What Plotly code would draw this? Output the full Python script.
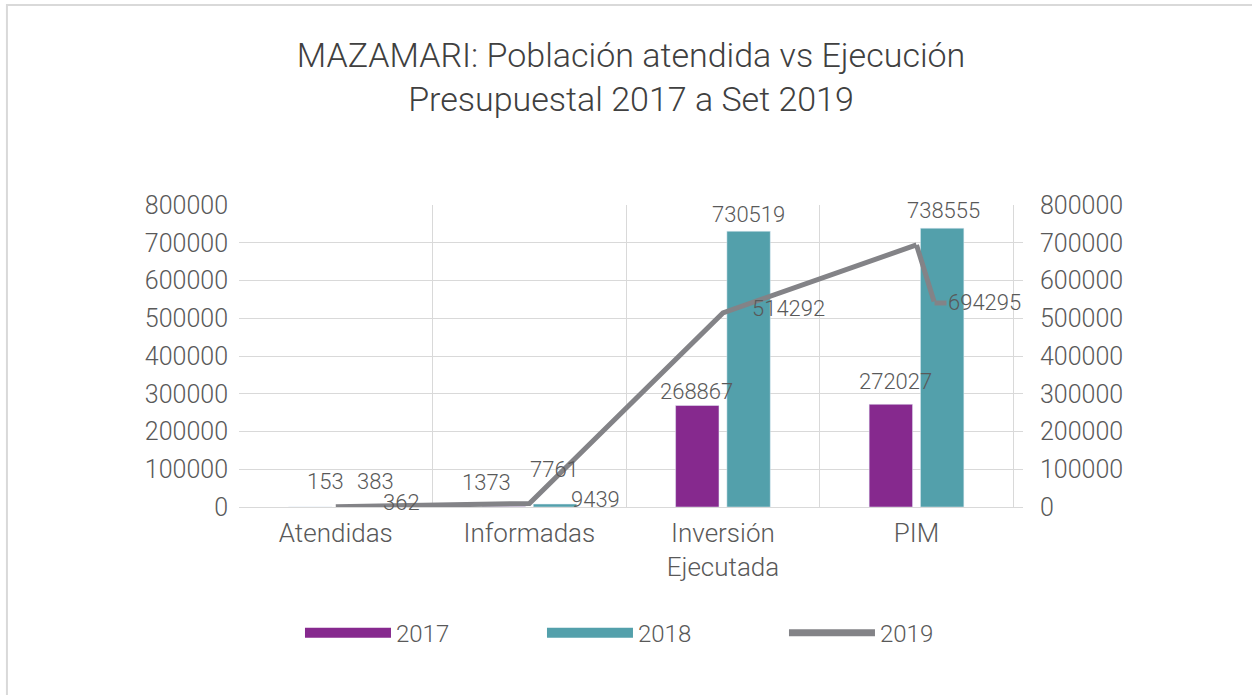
import plotly.graph_objects as go

# ---------------- data ----------------
categories = ["Atendidas", "Informadas", "Inversión<br>Ejecutada", "PIM"]
series_2017 = [153, 1373, 268867, 272027]
series_2018 = [383, 7761, 730519, 738555]
series_2019 = [362, 9439, 514292, 694295]
axis_ticks = [0, 100000, 200000, 300000, 400000, 500000, 600000, 700000, 800000]

# ---------------- styles ----------------
PURPLE = "#86298E"
TEAL = "#53A0AB"
GRAY = "#838387"
TXT = "#595959"
GRID = "#D9D9D9"
FONT = "Roboto"

fig = go.Figure()
fig.add_trace(go.Bar(x=categories, y=series_2017, name="2017", marker_color=PURPLE,
                     hoverinfo="skip", showlegend=False, legendgroup="2017"))
fig.add_trace(go.Bar(x=categories, y=series_2018, name="2018", marker_color=TEAL,
                     hoverinfo="skip", showlegend=False, legendgroup="2018"))
fig.add_trace(go.Scatter(x=categories, y=series_2019, name="2019", mode="lines",
                         yaxis="y2", line=dict(color=GRAY, width=5),
                         hoverinfo="skip", showlegend=False, legendgroup="2019"))

# legend keys (wide swatches like the original legend)
for name, col, w in (("2017", PURPLE, 18), ("2018", TEAL, 18), ("2019", GRAY, 7)):
    fig.add_trace(go.Scatter(x=[None], y=[None], name=name, mode="lines",
                             line=dict(color=col, width=w), legendgroup=name,
                             hoverinfo="skip"))

# label nudges (pixels) : (dx, dy) relative to the bar top centre
bar_shift = {0: -26, 1: 26}
nudge_2017 = [(16, 25), (-17, 24), (0, 14), (5, 23)]
nudge_2018 = [(14, 25), (-1, 35), (0, 17), (1, 18)]

annotations = []
lab_font = dict(family=FONT, size=22, color=TXT, weight=300)
for i, c in enumerate(categories):
    dx, dy = nudge_2017[i]
    annotations.append(dict(x=c, y=series_2017[i], xref="x", yref="y",
                            text=str(series_2017[i]), showarrow=False,
                            xshift=bar_shift[0] + dx, yshift=dy, font=lab_font))
    dx, dy = nudge_2018[i]
    annotations.append(dict(x=c, y=series_2018[i], xref="x", yref="y",
                            text=str(series_2018[i]), showarrow=False,
                            xshift=bar_shift[1] + dx, yshift=dy, font=lab_font))

# line labels, right of point
for i in range(3):
    annotations.append(dict(x=categories[i], y=series_2019[i], xref="x", yref="y2",
                            text=str(series_2019[i]), showarrow=False,
                            xshift=66, yshift=4, font=lab_font))
# last label moved with leader line
annotations.append(dict(x=categories[3], y=series_2019[3], xref="x", yref="y2",
                        text="", showarrow=True, arrowhead=0, arrowwidth=5,
                        arrowcolor=GRAY, ax=18, ay=58, standoff=0, startstandoff=0))
annotations.append(dict(x=categories[3], y=series_2019[3], xref="x", yref="y2",
                        text=str(series_2019[3]), showarrow=True, arrowhead=0,
                        arrowwidth=5, arrowcolor=GRAY, ax=50, ay=0,
                        xshift=18, yshift=-58, standoff=0, startstandoff=0,
                        font=lab_font))

tick_font = dict(family=FONT, size=25, color=TXT, weight=300)

fig.update_layout(
    width=1252, height=695,
    margin=dict(l=239, r=229, t=205, b=188, autoexpand=False),
    paper_bgcolor="white", plot_bgcolor="white",
    barmode="group", bargap=0.47, bargroupgap=0.154,
    title=dict(text="MAZAMARI: Población atendida vs Ejecución<br>Presupuestal 2017 a Set 2019",
               x=0.504, xref="container", xanchor="center",
               y=0.9035, yref="container", yanchor="middle",
               font=dict(family=FONT, size=34, color="#404040", weight=300)),
    xaxis=dict(type="category", tickson="boundaries", showgrid=True, gridcolor=GRID,
               gridwidth=1, ticks="", ticklabelstandoff=8,
               tickfont=dict(family=FONT, size=26, color=TXT, weight=300),
               showline=False, zeroline=False, fixedrange=True, automargin=False),
    yaxis=dict(range=[0, 800000], tickvals=axis_ticks, ticktext=[str(v) for v in axis_ticks],
               showgrid=True, gridcolor=GRID, gridwidth=1, zeroline=True,
               zerolinecolor=GRID, zerolinewidth=1, showline=False, ticks="",
               tickfont=tick_font, ticklabelstandoff=10, fixedrange=True, automargin=False),
    yaxis2=dict(range=[0, 800000], tickvals=axis_ticks, ticktext=[str(v) for v in axis_ticks],
                overlaying="y", side="right", showgrid=False, zeroline=False,
                showline=False, ticks="", tickfont=tick_font, ticklabelstandoff=16,
                fixedrange=True, automargin=False),
    legend=dict(orientation="h", x=0.2396, xref="container", xanchor="left",
                y=0.089, yref="container", yanchor="middle",
                font=dict(family=FONT, size=24, color=TXT, weight=300),
                itemwidth=86, traceorder="normal", entrywidth=141),
    annotations=annotations,
    shapes=[dict(type="rect", xref="paper", yref="paper", x0=-0.296, x1=1.5,
                 y0=-1.0, y1=1.662, line=dict(color=GRID, width=2),
                 fillcolor="rgba(0,0,0,0)", layer="below")],
)

fig.write_html("out.html", config={"displayModeBar": False},
               post_script="document.body.style.margin='0px';")
